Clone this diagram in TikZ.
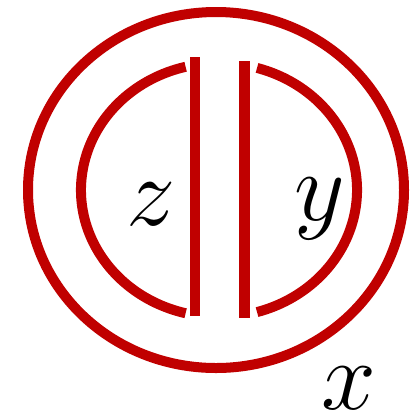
\documentclass[tikz,border=0pt]{standalone}
\usepackage{xcolor}
\usepackage{tikz}
\usetikzlibrary{calc}
\definecolor{ringred}{RGB}{192,0,0}

\begin{document}
\begin{tikzpicture}[
  x=0.75pt, y=-0.75pt,
  ring/.style={draw=ringred, line width=7.5pt},
  bar/.style={draw=ringred, line width=7.8pt},
  lab/.style={font=\Huge, scale=2.97, inner sep=0pt, anchor=base}
]
\useasboundingbox (0,0) rectangle (420,419);

% --- centres ---
\coordinate (outc) at (216,190);
\coordinate (inc)  at (219,190);

% --- outer ring ---
\draw[ring] (outc) ellipse [x radius=188, y radius=178];

% --- inner half rings ---
\draw[ring] ($(inc)+(104:138 and 127)$) arc[start angle=104, end angle=256, x radius=138, y radius=127];
\draw[ring] ($(inc)+(-74:138 and 127)$) arc[start angle=-74, end angle=74, x radius=138, y radius=127];

% --- walls ---
\coordinate (wLtop) at (195,57);
\coordinate (wLbot) at (195,316);
\coordinate (wRtop) at (244.5,61);
\coordinate (wRbot) at (244.5,318);
\draw[bar] (wLtop) -- (wLbot);
\draw[bar] (wRtop) -- (wRbot);

% --- labels ---
\node[lab] (lblz) at (151,225) {$z$};
\node[lab] (lbly) at (320,220) {$y$};
\node[lab] (lblx) at (349,409) {$x$};

\end{tikzpicture}
\end{document}
